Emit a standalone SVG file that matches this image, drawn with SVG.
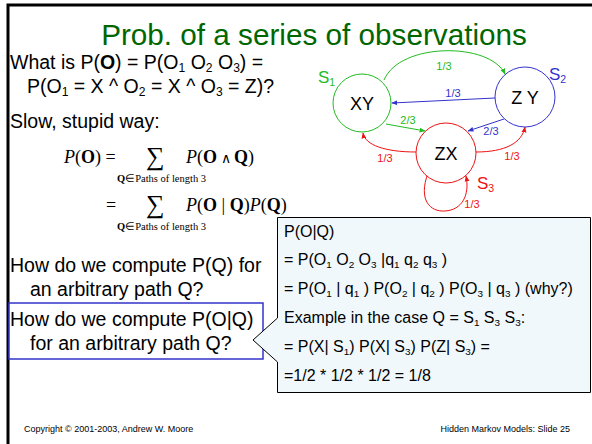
<svg xmlns="http://www.w3.org/2000/svg" width="592" height="444" viewBox="0 0 592 444">
<style>
text{font-family:"Liberation Sans",Arial,sans-serif;fill:#000}
.t{font-size:19.5px}
.c{font-size:16px}
.m{font-family:"Liberation Serif","Times New Roman",serif;font-size:18px}
.ms{font-family:"Liberation Serif","Times New Roman",serif;font-size:10.5px}
.sub{font-size:62%;baseline-shift:-3px}
.lbl{font-size:11px;text-anchor:middle}
.st{font-size:18px;text-anchor:middle}
.g{fill:#22bb22}.b{fill:#3333cc}.r{fill:#ee1111}
.eg{stroke:#22bb22}.eb{stroke:#3333cc}.er{stroke:#ee1111}
.e{fill:none;stroke-width:1}
</style>
<defs>
<marker id="ag" viewBox="0 0 10 10" refX="9" refY="5" markerWidth="6" markerHeight="6" orient="auto"><path d="M0,1L10,5L0,9z" fill="#22bb22"/></marker>
<marker id="ab" viewBox="0 0 10 10" refX="9" refY="5" markerWidth="6" markerHeight="6" orient="auto"><path d="M0,1L10,5L0,9z" fill="#3333cc"/></marker>
<marker id="ar" viewBox="0 0 10 10" refX="9" refY="5" markerWidth="6" markerHeight="6" orient="auto"><path d="M0,1L10,5L0,9z" fill="#ee1111"/></marker>
</defs>
<rect width="592" height="444" fill="#fff"/>
<path d="M8,444V5H592" fill="none" stroke="#000" stroke-width="3"/>
<text x="314" y="45" text-anchor="middle" style="font-size:29.7px;fill:#006600">Prob. of a series of observations</text>
<text class="t" x="10" y="69">What is P(<tspan font-weight="bold">O</tspan>) = P(O<tspan class="sub">1</tspan> O<tspan class="sub">2</tspan> O<tspan class="sub">3</tspan>) =</text>
<text class="t" x="27" y="93">P(O<tspan class="sub">1</tspan> = X ^ O<tspan class="sub">2</tspan> = X ^ O<tspan class="sub">3</tspan> = Z)?</text>
<text class="t" x="10" y="128">Slow, stupid way:</text>
<g id="formula">
<text class="m" x="64" y="163"><tspan font-style="italic">P</tspan>(<tspan font-weight="bold">O</tspan>) =</text>
<text class="m" x="146" y="165" style="font-size:26px">∑</text>
<text class="m" x="186" y="163"><tspan font-style="italic">P</tspan>(<tspan font-weight="bold">O</tspan><tspan font-size="14"> ∧ </tspan><tspan font-weight="bold">Q</tspan>)</text>
<text class="ms" x="117" y="182"><tspan font-weight="bold">Q</tspan>∈Paths of length 3</text>
<text class="m" x="106" y="211">=</text>
<text class="m" x="146" y="213" style="font-size:26px">∑</text>
<text class="m" x="186" y="211"><tspan font-style="italic">P</tspan>(<tspan font-weight="bold">O</tspan> | <tspan font-weight="bold">Q</tspan>)<tspan font-style="italic">P</tspan>(<tspan font-weight="bold">Q</tspan>)</text>
<text class="ms" x="117" y="230"><tspan font-weight="bold">Q</tspan>∈Paths of length 3</text>
</g>
<text class="t" x="10" y="272">How do we compute P(Q)  for</text>
<text class="t" x="30" y="296">an arbitrary path Q?</text>
<g id="q2">
<rect x="9" y="303" width="254" height="56" fill="#fff" stroke="#3333cc" stroke-width="1.5"/>
<text class="t" x="10" y="326">How do we compute P(O|Q)</text>
<text class="t" x="30" y="350">for an arbitrary path Q?</text>
</g>
<g id="callout">
<path d="M277.5,217.5H590.5V392.5H277.5V362L253,340L277.5,318Z" fill="#f0f8fc" stroke="#000" stroke-width="1"/>
<text class="c" x="284" y="237">P(O|Q)</text>
<text class="c" x="284" y="265">= P(O<tspan class="sub">1</tspan> O<tspan class="sub">2</tspan> O<tspan class="sub">3</tspan> |q<tspan class="sub">1</tspan> q<tspan class="sub">2</tspan> q<tspan class="sub">3</tspan> )</text>
<text class="c" x="284" y="294">= P(O<tspan class="sub">1</tspan> | q<tspan class="sub">1</tspan> ) P(O<tspan class="sub">2</tspan> | q<tspan class="sub">2</tspan> ) P(O<tspan class="sub">3</tspan> | q<tspan class="sub">3</tspan> ) (why?)</text>
<text class="c" x="284" y="323">Example in the case Q = S<tspan class="sub">1</tspan> S<tspan class="sub">3</tspan> S<tspan class="sub">3</tspan>:</text>
<text class="c" x="284" y="352">= P(X| S<tspan class="sub">1</tspan>) P(X| S<tspan class="sub">3</tspan>) P(Z| S<tspan class="sub">3</tspan>) =</text>
<text class="c" x="284" y="381">=1/2 * 1/2 * 1/2 = 1/8</text>
</g>
<g id="edges">
<path class="e eg" d="M384,80C400,42 490,42 505,74" marker-end="url(#ag)"/>
<path class="e eb" d="M495,98L392,103" marker-end="url(#ab)"/>
<path class="e eg" d="M386,124L425,131" marker-end="url(#ag)"/>
<path class="e eb" d="M504,119L468,131" marker-end="url(#ab)"/>
<path class="e er" d="M416,152C385,152 365,145 363,133" marker-end="url(#ar)"/>
<path class="e er" d="M476,152C505,152 522,143 525,127" marker-end="url(#ar)"/>
<path class="e er" d="M428,173C418,200 430,212 445,211C462,210 470,195 466,176" marker-end="url(#ar)"/>
<text class="lbl g" x="444" y="70">1/3</text>
<text class="lbl b" x="453" y="97">1/3</text>
<text class="lbl g" x="408" y="124">2/3</text>
<text class="lbl b" x="491" y="135">2/3</text>
<text class="lbl r" x="385" y="162">1/3</text>
<text class="lbl r" x="512" y="160">1/3</text>
<text class="lbl r" x="472" y="208">1/3</text>
</g>
<g id="s1">
<circle cx="362" cy="103" r="29" fill="#fff" stroke="#22bb22"/>
<text class="st" x="362" y="110">XY</text>
<text class="g" x="318" y="83" style="font-size:17px">S<tspan class="sub">1</tspan></text>
</g>
<g id="s2">
<circle cx="525" cy="97" r="30" fill="#fff" stroke="#3333cc"/>
<text class="st" x="525" y="104">Z Y</text>
<text class="b" x="549" y="80" style="font-size:17px">S<tspan class="sub">2</tspan></text>
</g>
<g id="s3">
<circle cx="446" cy="153" r="30" fill="#fff" stroke="#ee1111"/>
<text class="st" x="446" y="160">ZX</text>
<text class="r" x="477" y="189" style="font-size:17px">S<tspan class="sub">3</tspan></text>
</g>
<text x="24" y="432" style="font-size:9px">Copyright © 2001-2003, Andrew W. Moore</text>
<text x="570" y="432" text-anchor="end" style="font-size:9px">Hidden Markov Models: Slide 25</text>
</svg>
